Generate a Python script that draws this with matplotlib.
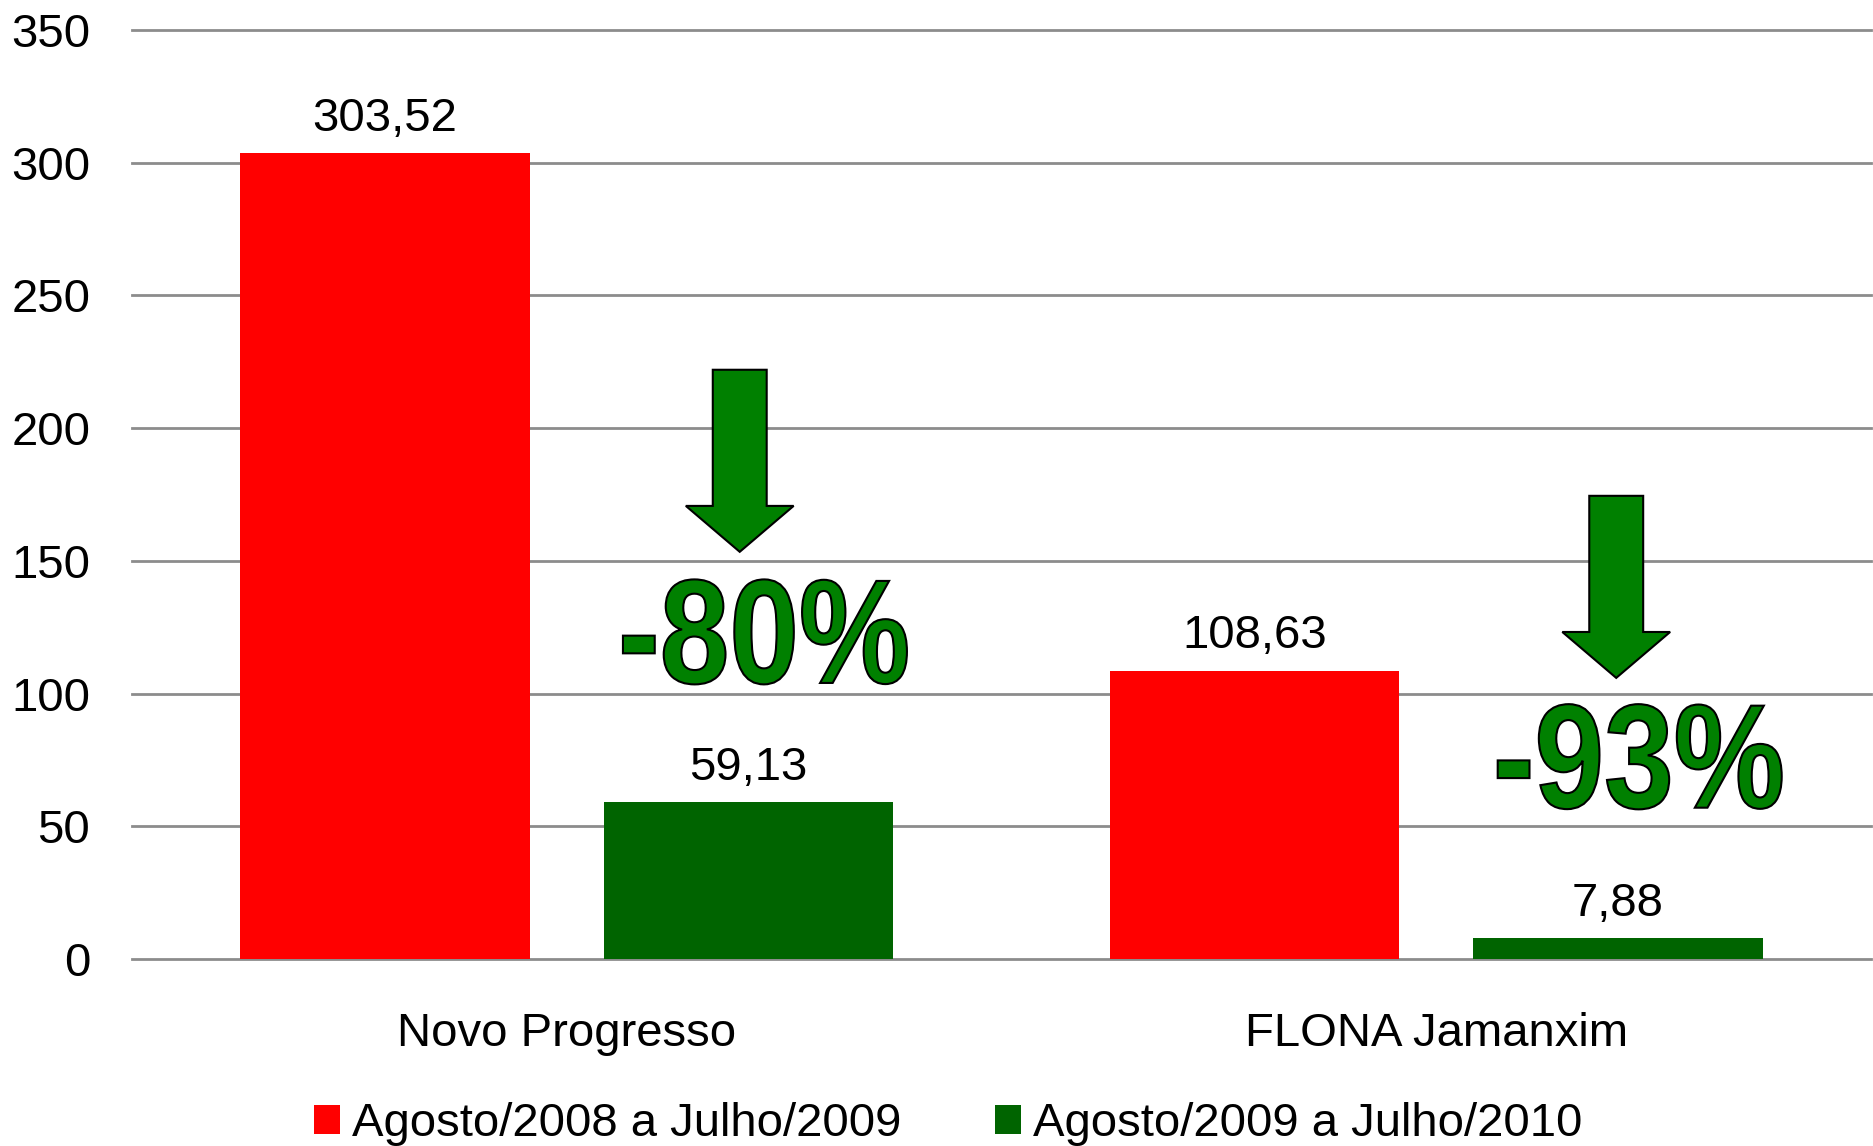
import numpy as np
import matplotlib
matplotlib.use("Agg")
import matplotlib.pyplot as plt
from matplotlib.patches import FancyArrow, PathPatch
from matplotlib.textpath import TextPath
from matplotlib.font_manager import FontProperties
from matplotlib.transforms import Affine2D, ScaledTranslation

plt.rcParams['font.family'] = ['Liberation Sans', 'DejaVu Sans']

categories = ["Novo Progresso", "FLONA Jamanxim"]
series_names = ["Agosto/2008 a Julho/2009", "Agosto/2009 a Julho/2010"]
values_2009 = [303.52, 108.63]
values_2010 = [59.13, 7.88]
changes = ["-80%", "-93%"]

# arrow x / top / tip and percentage label x / baseline, in data units
arrow_x = [0.199, 1.207]
arrow_top = [222, 174.5]
arrow_tip = [153.4, 105.9]
change_x = [0.228, 1.234]
change_y = [104, 57]

RED = "#FF0000"
DKGREEN = "#006400"
ARROW_GREEN = "#008000"
FS = 34

fig = plt.figure(figsize=(18.74, 11.46), dpi=100)
ax = fig.add_axes([0.0704, 0.1632, 0.928, 0.8106])

x = np.arange(len(categories))
w = 0.333
off = 0.209
b1 = ax.bar(x - off, values_2009, w, color=RED, label=series_names[0])
b2 = ax.bar(x + off, values_2010, w, color=DKGREEN, label=series_names[1])

ax.set_xlim(-0.5, 1.5)
ax.set_ylim(0, 350)

def fmt(v):
    return f"{v:.2f}".replace(".", ",")

for bars, vals in ((b1, values_2009), (b2, values_2010)):
    for r, v in zip(bars, vals):
        ax.annotate(fmt(v), (r.get_x() + r.get_width() / 2, v), xytext=(0, 9),
                    textcoords="offset points", ha="center", va="bottom", fontsize=FS)

# arrows
for i in range(len(categories)):
    arr = FancyArrow(arrow_x[i], arrow_top[i], 0, arrow_tip[i] - arrow_top[i], width=0.062,
                     head_width=0.124, head_length=17.3, length_includes_head=True,
                     facecolor=ARROW_GREEN, edgecolor="black", linewidth=1.5, zorder=5)
    ax.add_patch(arr)

# condensed heavy percentage labels (horizontally squeezed text paths)
bold = FontProperties(family="Liberation Sans", weight="bold")
target_w, target_h = 284.0, 105.0   # pixels
for i in range(len(categories)):
    tp = TextPath((0, 0), changes[i], size=100, prop=bold)
    ext = tp.get_extents()
    dig = TextPath((0, 0), "8", size=100, prop=bold).get_extents()
    sx = target_w / ext.width
    sy = target_h / dig.height
    tr = (Affine2D().translate(-(ext.x0 + ext.x1) / 2, 0).scale(sx, sy)
          + ScaledTranslation(change_x[i], change_y[i], ax.transData))
    ax.add_artist(PathPatch(tp, transform=tr, facecolor=ARROW_GREEN,
                            edgecolor="black", linewidth=1.5, zorder=6))

ax.set_yticks(np.arange(0, 351, 50))
ax.set_xticks(x)
ax.set_xticklabels(categories)
ax.tick_params(axis="y", length=0, pad=30, labelsize=FS)
ax.tick_params(axis="x", length=0, pad=38, labelsize=FS)
ax.yaxis.grid(True, color="#8c8c8c", linewidth=2)
ax.set_axisbelow(True)
for ln in ax.get_ygridlines():
    ln.set_clip_on(False)
for s in ax.spines.values():
    s.set_visible(False)

fig.legend(handles=[b1, b2], labels=series_names, loc="center",
           bbox_to_anchor=(0.506, 0.019), ncol=2, frameon=False,
           fontsize=FS, handlelength=0.55, handleheight=0.55, handletextpad=0.25,
           columnspacing=2.0, borderaxespad=0, borderpad=0)

fig.savefig("out.png", dpi=100, facecolor="white")
